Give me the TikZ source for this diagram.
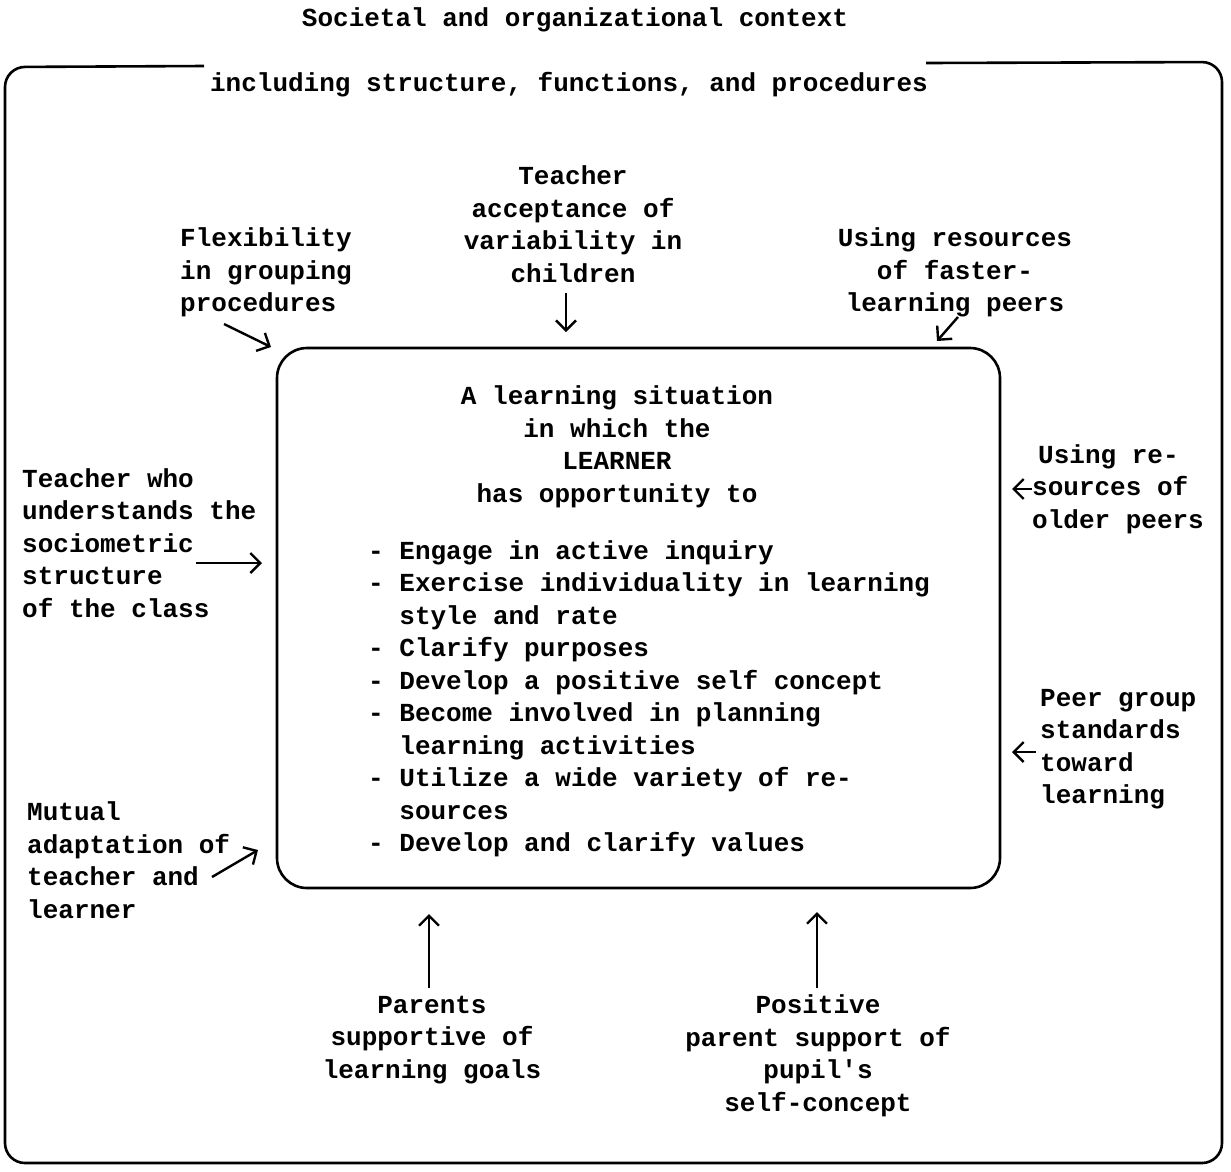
\documentclass[tikz,border=0pt]{standalone}
\usepackage{fontspec}
\setmonofont{Liberation Mono}
\usetikzlibrary{arrows.meta}
\begin{document}
\begin{tikzpicture}[x=1pt,y=-1pt,
  txt/.style={font=\ttfamily\bfseries\fontsize{26}{32.5}\selectfont, inner sep=0pt, text=black},
  arr/.style={line width=2.4pt, -{Straight Barb[length=10pt,width=20pt,line width=2.4pt]}},
  frame/.style={line width=2.6pt, rounded corners=20pt},
  inbox/.style={draw, line width=2.6pt, rounded corners=30pt, inner sep=0pt}]
\useasboundingbox (0,0) rectangle (1231,1171);

% titles
\node[txt] (title) at (575,20) {Societal and organizational context};
\node[txt] (inc) at (569,85) {including structure, functions, and procedures};

% outer frame
\coordinate (fl) at (204,66);
\coordinate (fr) at (926,63);
\draw[frame] (fl) -- (5,67) -- (5,1163) -- (1222,1163) -- (1222,62) -- (fr);

% inner box
\node[inbox, minimum width=723pt, minimum height=540pt] (box) at (638.5,618) {};
\node[txt, align=center] (head) at (617,447) {A learning situation\\in which the\\LEARNER\\has opportunity to};
\node[txt, align=left, anchor=west] (list) at (368,699) {%
- Engage in active inquiry\\
- Exercise individuality in learning\\
\phantom{- }style and rate\\
- Clarify purposes\\
- Develop a positive self concept\\
- Become involved in planning\\
\phantom{- }learning activities\\
- Utilize a wide variety of re-\\
\phantom{- }sources\\
- Develop and clarify values};

% surrounding factors
\node[txt, align=center] (tacc) at (573,224) {Teacher\\acceptance of\\variability in\\children};
\node[txt, align=left, anchor=west] (flex) at (180,272.5) {Flexibility\\in grouping\\procedures};
\node[txt, align=center] (fast) at (955,272.5) {Using resources\\of faster-\\learning peers};
\node[txt, align=left, anchor=west] (older) at (1032,489) {\hspace{6pt}Using re-\\sources of\\older peers};
\node[txt, align=left, anchor=west] (socio) at (22,543) {Teacher who\\understands the\\sociometric\\structure\\of the class};
\node[txt, align=left, anchor=west] (peer) at (1040,749) {Peer group\\standards\\toward\\learning};
\node[txt, align=left, anchor=west] (mutual) at (27,860) {Mutual\\adaptation of\\teacher and\\learner};
\node[txt, align=center] (parents) at (432,1040) {Parents\\supportive of\\learning goals};
\node[txt, align=center] (pos) at (818,1056) {Positive\\parent support of\\pupil's\\self-concept};

% arrows
\coordinate (a1s) at (566,293); \coordinate (a1e) at (566,332);
\coordinate (a2s) at (224,324); \coordinate (a2e) at (271,347);
\coordinate (a3s) at (958,317); \coordinate (a3e) at (937,341);
\coordinate (a4s) at (1032,489); \coordinate (a4e) at (1012,489);
\coordinate (a5s) at (196,563); \coordinate (a5e) at (262,563);
\coordinate (a6s) at (1036,752); \coordinate (a6e) at (1012,752);
\coordinate (a7s) at (212,877); \coordinate (a7e) at (258,850);
\coordinate (a8s) at (429,988); \coordinate (a8e) at (429,914);
\coordinate (a9s) at (817,988); \coordinate (a9e) at (817,912);
\draw[arr] (a1s) -- (a1e);
\draw[arr] (a2s) -- (a2e);
\draw[arr] (a3s) -- (a3e);
\draw[arr] (a4s) -- (a4e);
\draw[arr] (a5s) -- (a5e);
\draw[arr] (a6s) -- (a6e);
\draw[arr] (a7s) -- (a7e);
\draw[arr] (a8s) -- (a8e);
\draw[arr] (a9s) -- (a9e);
\end{tikzpicture}
\end{document}
